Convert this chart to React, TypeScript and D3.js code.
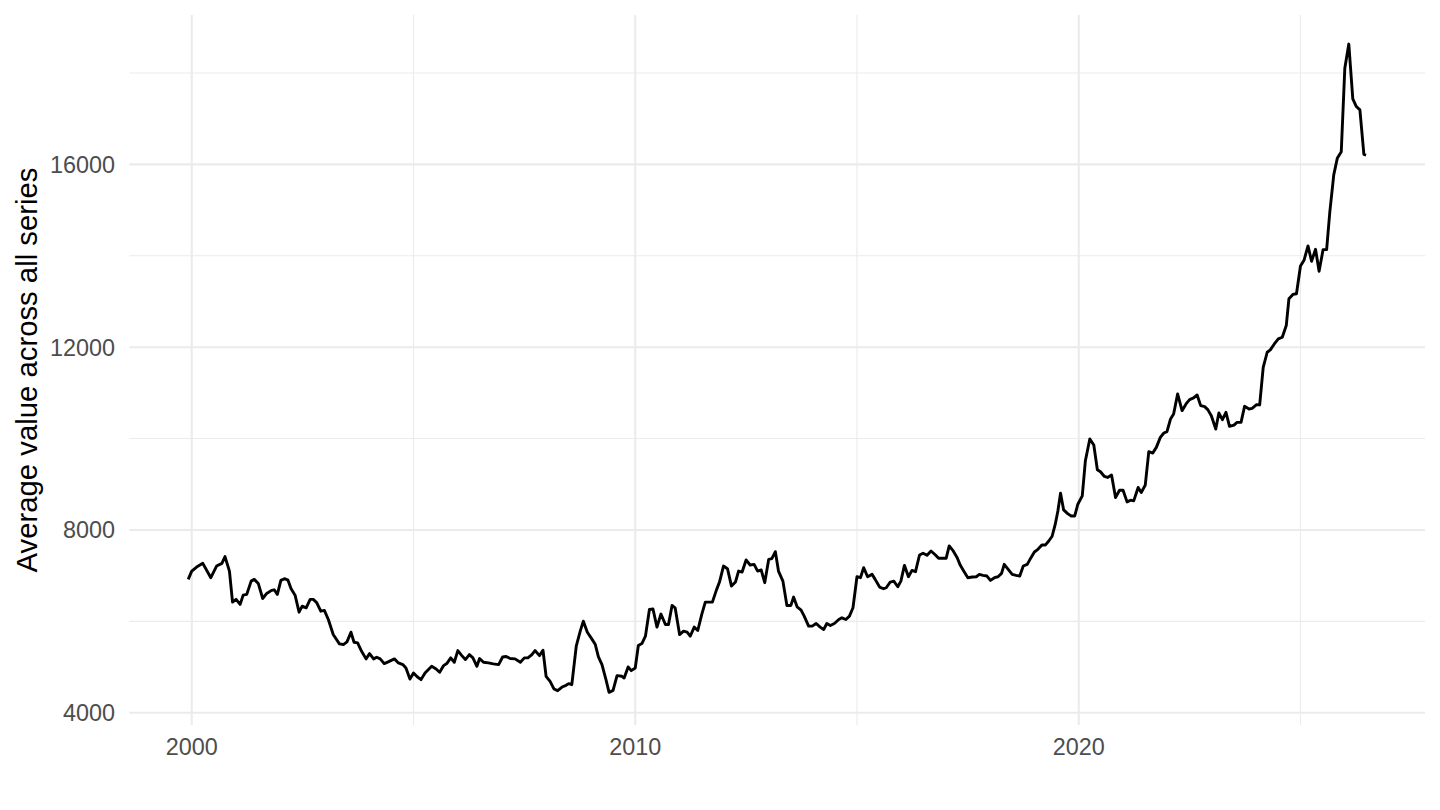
import React, { useEffect, useRef } from 'react'
import * as d3 from 'd3'

const obsYear = [
  1999.92, 2000.0, 2000.11, 2000.25, 2000.43, 2000.56, 2000.68, 2000.75, 2000.85, 2000.92,
  2001.0, 2001.09, 2001.16, 2001.24, 2001.34, 2001.41, 2001.5, 2001.6, 2001.69, 2001.8,
  2001.86, 2001.93, 2002.01, 2002.09, 2002.17, 2002.24, 2002.33, 2002.42, 2002.49, 2002.58,
  2002.67, 2002.74, 2002.82, 2002.91, 2002.99, 2003.08, 2003.19, 2003.33, 2003.42, 2003.5,
  2003.59, 2003.66, 2003.74, 2003.83, 2003.93, 2004.01, 2004.1, 2004.17, 2004.25, 2004.34,
  2004.43, 2004.57, 2004.66, 2004.76, 2004.83, 2004.92, 2005.0, 2005.09, 2005.17, 2005.26,
  2005.41, 2005.51, 2005.59, 2005.68, 2005.75, 2005.84, 2005.92, 2006.0, 2006.09, 2006.17,
  2006.26, 2006.34, 2006.43, 2006.49, 2006.58, 2006.69, 2006.8, 2006.92, 2007.01, 2007.09,
  2007.18, 2007.29, 2007.41, 2007.5, 2007.58, 2007.67, 2007.74, 2007.84, 2007.92, 2007.99,
  2008.08, 2008.17, 2008.25, 2008.35, 2008.44, 2008.5, 2008.57, 2008.67, 2008.76, 2008.83,
  2008.92, 2009.02, 2009.1, 2009.17, 2009.25, 2009.34, 2009.41, 2009.5, 2009.59, 2009.7,
  2009.75, 2009.84, 2009.91, 2010.0, 2010.07, 2010.15, 2010.23, 2010.32, 2010.4, 2010.49,
  2010.58, 2010.68, 2010.75, 2010.83, 2010.9, 2011.0, 2011.09, 2011.17, 2011.24, 2011.33,
  2011.41, 2011.5, 2011.58, 2011.65, 2011.74, 2011.83, 2011.9, 2011.99, 2012.08, 2012.17,
  2012.26, 2012.33, 2012.41, 2012.5, 2012.59, 2012.68, 2012.76, 2012.84, 2012.92, 2013.01,
  2013.08, 2013.16, 2013.23, 2013.33, 2013.42, 2013.51, 2013.57, 2013.65, 2013.74, 2013.81,
  2013.91, 2013.99, 2014.08, 2014.17, 2014.25, 2014.32, 2014.4, 2014.49, 2014.59, 2014.66,
  2014.75, 2014.83, 2014.91, 2015.0, 2015.08, 2015.15, 2015.24, 2015.34, 2015.41, 2015.51,
  2015.6, 2015.66, 2015.75, 2015.83, 2015.92, 2015.99, 2016.07, 2016.16, 2016.24, 2016.32,
  2016.41, 2016.49, 2016.58, 2016.67, 2016.77, 2016.84, 2016.94, 2017.01, 2017.08, 2017.17,
  2017.26, 2017.33, 2017.42, 2017.5, 2017.6, 2017.69, 2017.76, 2017.84, 2017.93, 2018.01,
  2018.1, 2018.18, 2018.26, 2018.32, 2018.41, 2018.5, 2018.59, 2018.67, 2018.75, 2018.84,
  2018.91, 2019.0, 2019.08, 2019.17, 2019.25, 2019.32, 2019.4, 2019.47, 2019.53, 2019.59,
  2019.66, 2019.75, 2019.83, 2019.91, 2019.98, 2020.08, 2020.15, 2020.25, 2020.34, 2020.42,
  2020.49, 2020.58, 2020.65, 2020.74, 2020.83, 2020.92, 2021.0, 2021.09, 2021.17, 2021.24,
  2021.34, 2021.41, 2021.5, 2021.58, 2021.67, 2021.75, 2021.84, 2021.92, 2021.99, 2022.07,
  2022.14, 2022.23, 2022.33, 2022.42, 2022.5, 2022.59, 2022.67, 2022.75, 2022.84, 2022.91,
  2022.99, 2023.09, 2023.16, 2023.24, 2023.32, 2023.4, 2023.5, 2023.57, 2023.66, 2023.74,
  2023.84, 2023.91, 2024.01, 2024.08, 2024.16, 2024.25, 2024.32, 2024.41, 2024.5, 2024.59,
  2024.68, 2024.74, 2024.83, 2024.91, 2025.0, 2025.08, 2025.17, 2025.25, 2025.34, 2025.42,
  2025.51, 2025.59, 2025.66, 2025.75, 2025.83, 2025.92, 2026.0, 2026.09, 2026.18, 2026.26,
  2026.34, 2026.43, 2026.48,
]

const avgValue = [
  6918, 7100, 7188, 7269, 6955, 7210, 7269, 7416, 7100, 6420,
  6480, 6370, 6573, 6590, 6880, 6918, 6830, 6500, 6610, 6677,
  6690, 6590, 6896, 6933, 6900, 6713, 6573, 6200, 6332, 6296,
  6480, 6480, 6405, 6222, 6238, 6040, 5711, 5507, 5492, 5550,
  5762, 5543, 5528, 5345, 5178, 5294, 5178, 5215, 5178, 5075,
  5112, 5178, 5090, 5053, 4980, 4737, 4870, 4781, 4724, 4870,
  5016, 4958, 4884, 5031, 5075, 5200, 5104, 5360, 5250, 5163,
  5272, 5200, 5016, 5185, 5104, 5090, 5068, 5053, 5220, 5230,
  5185, 5178, 5104, 5200, 5200, 5272, 5360, 5250, 5367, 4797,
  4687, 4518, 4482, 4562, 4599, 4636, 4614, 5455, 5784, 6003,
  5762, 5615, 5492, 5220, 5053, 4724, 4445, 4489, 4812, 4797,
  4760, 5002, 4921, 4980, 5470, 5514, 5674, 6260, 6270, 5874,
  6160, 5931, 5931, 6348, 6296, 5711, 5784, 5762, 5674, 5874,
  5799, 6150, 6420, 6420, 6420, 6683, 6860, 7210, 7152, 6771,
  6860, 7100, 7079, 7343, 7233, 7247, 7100, 7123, 6845, 7357,
  7372, 7525, 7100, 6880, 6348, 6348, 6530, 6318, 6244, 6113,
  5894, 5894, 5953, 5874, 5821, 5953, 5909, 5953, 6040, 6077,
  6040, 6113, 6296, 6976, 6955, 7174, 6976, 7028, 6918, 6750,
  6713, 6735, 6860, 6880, 6757, 6880, 7225, 6976, 7115, 7086,
  7452, 7489, 7445, 7540, 7452, 7379, 7379, 7379, 7650, 7540,
  7393, 7225, 7079, 6955, 6969, 6976, 7028, 7006, 6991, 6896,
  6955, 6976, 7050, 7247, 7137, 7028, 7006, 6991, 7210, 7247,
  7372, 7518, 7576, 7672, 7672, 7752, 7862, 8120, 8416, 8805,
  8438, 8357, 8306, 8306, 8563, 8745, 9513, 9990, 9858, 9316,
  9272, 9171, 9149, 9200, 8710, 8870, 8870, 8614, 8651, 8636,
  8929, 8819, 8980, 9712, 9682, 9807, 10026, 10121, 10150, 10428,
  10538, 10977, 10611, 10758, 10853, 10889, 10955, 10721, 10699, 10633,
  10501, 10209, 10560, 10413, 10574, 10267, 10296, 10355, 10355, 10706,
  10647, 10662, 10743, 10736, 11560, 11889, 11940, 12071, 12181, 12218,
  12473, 13061, 13155, 13170, 13777, 13902, 14217, 13880, 14143, 13660,
  14136, 14136, 14942, 15767, 16133, 16279, 18107, 18634, 17435, 17267,
  17194, 16220, 16205,
]

const xMajorTicks = [2000, 2010, 2020]
const xMinorTicks = [2005, 2015, 2025]
const yMajorTicks = [4000, 8000, 12000, 16000]
const yMinorTicks = [6000, 10000, 14000, 18000]
const yLimits = [3731, 19270]
const yTitle = 'Average value across all series'

const FONT = '"Liberation Sans", Arial, Helvetica, sans-serif'

function SeriesChart() {
  const svgRef = useRef<SVGSVGElement>(null)

  useEffect(() => {
    if (!svgRef.current) return
    const svg = d3.select(svgRef.current)
    svg.selectAll('*').remove()

    const panel = { left: 129.3, right: 1425, top: 15, bottom: 725 }

    // ggplot-style 5% expansion on the x range
    const [x0, x1] = d3.extent(obsYear) as [number, number]
    const pad = (x1 - x0) * 0.05
    const x = d3.scaleLinear().domain([x0 - pad, x1 + pad]).range([panel.left, panel.right])
    const y = d3.scaleLinear().domain(yLimits).range([panel.bottom, panel.top])

    const grid = svg.append('g')
    grid
      .selectAll('.ymin')
      .data(yMinorTicks)
      .join('line')
      .attr('x1', panel.left)
      .attr('x2', panel.right)
      .attr('y1', (d) => y(d))
      .attr('y2', (d) => y(d))
      .attr('stroke', '#EBEBEB')
      .attr('stroke-width', 1.1)
    grid
      .selectAll('.xmin')
      .data(xMinorTicks)
      .join('line')
      .attr('x1', (d) => x(d))
      .attr('x2', (d) => x(d))
      .attr('y1', panel.top)
      .attr('y2', panel.bottom)
      .attr('stroke', '#EBEBEB')
      .attr('stroke-width', 1.1)
    grid
      .append('g')
      .selectAll('line')
      .data(yMajorTicks)
      .join('line')
      .attr('x1', panel.left)
      .attr('x2', panel.right)
      .attr('y1', (d) => y(d))
      .attr('y2', (d) => y(d))
      .attr('stroke', '#EBEBEB')
      .attr('stroke-width', 2.1)
    grid
      .append('g')
      .selectAll('line')
      .data(xMajorTicks)
      .join('line')
      .attr('x1', (d) => x(d))
      .attr('x2', (d) => x(d))
      .attr('y1', panel.top)
      .attr('y2', panel.bottom)
      .attr('stroke', '#EBEBEB')
      .attr('stroke-width', 2.1)

    const line = d3
      .line<number>()
      .x((d, i) => x(obsYear[i]))
      .y((d) => y(d))

    svg
      .append('path')
      .datum(avgValue)
      .attr('d', line)
      .attr('fill', 'none')
      .attr('stroke', '#000')
      .attr('stroke-width', 2.9)
      .attr('stroke-linejoin', 'round')

    svg
      .append('g')
      .selectAll('text')
      .data(xMajorTicks)
      .join('text')
      .attr('x', (d) => x(d))
      .attr('y', 755)
      .attr('text-anchor', 'middle')
      .style('font-family', FONT)
      .style('font-size', '23.4px')
      .style('fill', '#4D4D4D')
      .text((d) => String(d))

    svg
      .append('g')
      .selectAll('text')
      .data(yMajorTicks)
      .join('text')
      .attr('x', 115)
      .attr('y', (d) => y(d))
      .attr('dy', '0.36em')
      .attr('text-anchor', 'end')
      .style('font-family', FONT)
      .style('font-size', '23.4px')
      .style('fill', '#4D4D4D')
      .text((d) => String(d))

    svg
      .append('text')
      .attr('transform', `translate(37,${(panel.top + panel.bottom) / 2}) rotate(-90)`)
      .attr('text-anchor', 'middle')
      .style('font-family', FONT)
      .style('font-size', '29.3px')
      .style('fill', '#000')
      .text(yTitle)
  }, [])

  return <svg ref={svgRef} width={1440} height={810} style={{ display: 'block', background: '#fff' }} />
}

export default function App() {
  return (
    <div style={{ position: 'absolute', left: 0, top: 0, width: 1440, height: 810, background: '#fff' }}>
      <SeriesChart />
    </div>
  )
}
